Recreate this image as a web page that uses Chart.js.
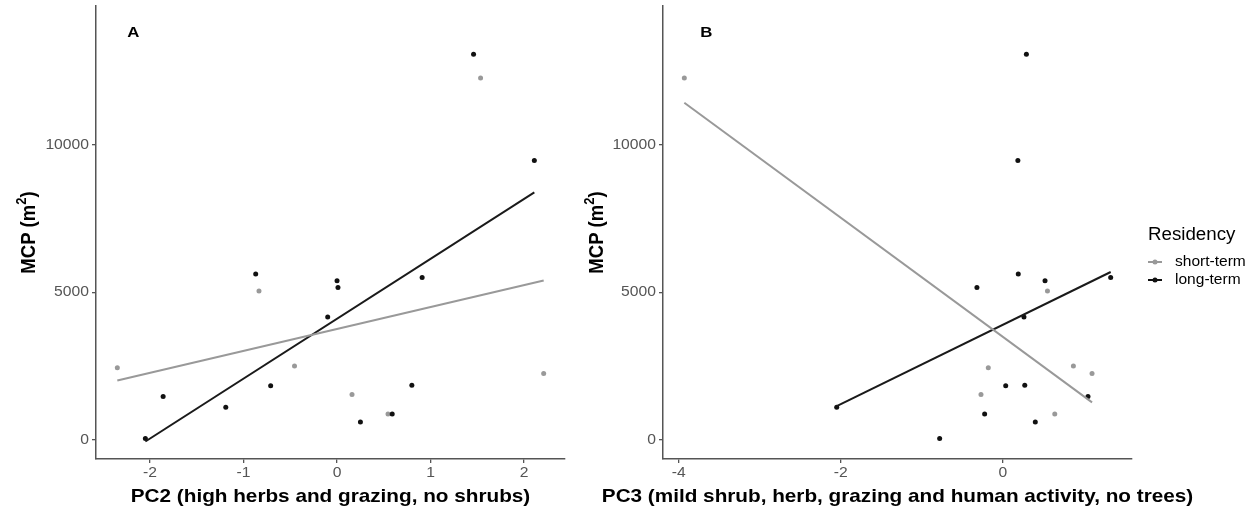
<!DOCTYPE html>
<html>
<head>
<meta charset="utf-8">
<script src="https://cdn.jsdelivr.net/npm/chart.js@4/dist/chart.umd.min.js"></script>
<style>
  html, body { margin: 0; padding: 0; background: #ffffff; }
  #wrap { position: relative; width: 1257px; height: 506px; overflow: hidden; background: #ffffff; }
  canvas { position: absolute; top: 0; display: block; }
</style>
</head>
<body>
<div id="wrap">
  <canvas id="panelA" width="580" height="506" style="left:0px;width:580px;height:506px"></canvas>
  <canvas id="panelB" width="677" height="506" style="left:580px;width:677px;height:506px"></canvas>
</div>
<script>
// Home-range size (MCP, m²) per animal, split by residency class
const mcpShort = [2449, 5046, 2506, 1542, 884, 2257, 12260];
const pc2Short = [-2.35, -0.835, -0.455, 0.16, 0.545, 2.21, 1.535];
const pc3Short = [-0.18, 0.55, 0.87, -0.27, 0.64, 1.10, -3.93];

const mcpLong = [57, 1474, 1111, 5624, 1837, 4172, 5397, 5170, 612, 884, 1859, 5510, 13067, 9465];
const pc2Long = [-2.05, -1.86, -1.19, -0.87, -0.71, -0.10, 0.0, 0.01, 0.25, 0.59, 0.80, 0.91, 1.46, 2.11];
const pc3Long = [-0.78, 1.05, -2.05, 0.19, 0.035, 0.26, 0.52, -0.32, 0.40, -0.225, 0.27, 1.33, 0.29, 0.185];

// Axis ticks and labels
const mcpTicks = [0, 5000, 10000];
const pc2Ticks = [-2, -1, 0, 1, 2];
const pc3Ticks = [-4, -2, 0];
const mcpLimits = [-640, 14700];

const seriesNames = ['short-term', 'long-term'];
const legendTitle = 'Residency';
const yTitle = ['MCP', 'm', '2'];
const xTitleA = 'PC2 (high herbs and grazing, no shrubs)';
const xTitleB = 'PC3 (mild shrub, herb, grazing and human activity, no trees)';
const panelLetters = ['A', 'B'];

const GREY = '#999999';
const BLACK = '#111111';
const AXIS = '#555555';
const TICKTEXT = '#555555';
const FONT = "'Liberation Sans', Arial, Helvetica, sans-serif";
const SX = 1.12; // horizontal stretch of the lettering

function pairs(xs, ys) { return xs.map((x, i) => ({ x: x, y: ys[i] })); }

// Ordinary least-squares fit, returned as the segment spanning the data
function fitLine(xs, ys) {
  const n = xs.length;
  const mx = xs.reduce((a, b) => a + b, 0) / n;
  const my = ys.reduce((a, b) => a + b, 0) / n;
  let sxx = 0, sxy = 0;
  for (let i = 0; i < n; i++) { sxx += (xs[i] - mx) ** 2; sxy += (xs[i] - mx) * (ys[i] - my); }
  const b = sxy / sxx, a = my - b * mx;
  const lo = Math.min(...xs), hi = Math.max(...xs);
  return [{ x: lo, y: a + b * lo }, { x: hi, y: a + b * hi }];
}

function expandRange(values) {
  const lo = Math.min(...values), hi = Math.max(...values);
  const pad = (hi - lo) * 0.05;
  return [lo - pad, hi + pad];
}

function drawText(ctx, str, x, y, font, color, align, baseline, sx) {
  ctx.save();
  ctx.font = font;
  ctx.fillStyle = color;
  ctx.textBaseline = baseline;
  ctx.textAlign = 'left';
  const w = ctx.measureText(str).width * sx;
  const left = align === 'center' ? x - w / 2 : (align === 'right' ? x - w : x);
  ctx.translate(left, y);
  ctx.scale(sx, 1);
  ctx.fillText(str, 0, 0);
  ctx.restore();
}

// Rotated y-axis title "MCP (m²)", centred on the plotting area
function drawYTitle(ctx, xBase, yMid) {
  const big = 'bold 18.5px ' + FONT;
  const small = 'bold 13px ' + FONT;
  const parts = [
    { t: yTitle[0], f: big, dy: 0 },
    { t: ' (', f: big, dy: 0 },
    { t: yTitle[1], f: big, dy: 0 },
    { t: yTitle[2], f: small, dy: -8 },
    { t: ')', f: big, dy: 0 }
  ];
  let total = 0;
  parts.forEach(p => { ctx.font = p.f; p.w = ctx.measureText(p.t).width; total += p.w; });
  ctx.save();
  ctx.translate(xBase, yMid);
  ctx.rotate(-Math.PI / 2);
  ctx.scale(1, SX);
  ctx.fillStyle = '#000000';
  ctx.textBaseline = 'alphabetic';
  ctx.textAlign = 'left';
  let cx = -total / 2;
  parts.forEach(p => { ctx.font = p.f; ctx.fillText(p.t, cx, p.dy); cx += p.w; });
  ctx.restore();
}

function makeTextPlugin(cfg) {
  return {
    id: 'panelText',
    afterDraw(chart) {
      const ctx = chart.ctx;
      const xs = chart.scales.x, ys = chart.scales.y;
      const area = chart.chartArea;
      const tickFont = '14px ' + FONT;
      // y tick labels
      ys.ticks.forEach(t => {
        drawText(ctx, String(t.value), area.left - 7, ys.getPixelForValue(t.value), tickFont, TICKTEXT, 'right', 'middle', SX);
      });
      // x tick labels
      xs.ticks.forEach(t => {
        drawText(ctx, String(t.value), xs.getPixelForValue(t.value), area.bottom + 14, tickFont, TICKTEXT, 'center', 'middle', SX);
      });
      // x-axis title
      drawText(ctx, cfg.xTitle, (area.left + area.right) / 2, 502, 'bold 18.5px ' + FONT, '#000000', 'center', 'alphabetic', SX);
      // y-axis title
      drawYTitle(ctx, cfg.yTitleX, (area.top + area.bottom) / 2);
      // panel letter
      drawText(ctx, cfg.letter, xs.getPixelForValue(cfg.letterAt[0]), ys.getPixelForValue(cfg.letterAt[1]), 'bold 15px ' + FONT, '#000000', 'center', 'middle', SX);
      // legend
      if (cfg.legendX !== undefined) {
        const lx = cfg.legendX;
        drawText(ctx, legendTitle, lx, 240, '17.5px ' + FONT, '#000000', 'left', 'alphabetic', 1.07);
        const keys = [{ c: GREY, y: 262 }, { c: BLACK, y: 280 }];
        keys.forEach((k, i) => {
          ctx.save();
          ctx.strokeStyle = k.c;
          ctx.lineWidth = 2;
          ctx.beginPath();
          ctx.moveTo(lx, k.y);
          ctx.lineTo(lx + 14, k.y);
          ctx.stroke();
          ctx.fillStyle = k.c;
          ctx.beginPath();
          ctx.arc(lx + 7, k.y, 2.5, 0, Math.PI * 2);
          ctx.fill();
          ctx.restore();
          drawText(ctx, seriesNames[i], lx + 27, k.y, '14px ' + FONT, '#000000', 'left', 'middle', 1.11);
        });
      }
    }
  };
}

function axisStyle() {
  return {
    grid: { display: true, drawOnChartArea: false, drawTicks: true, tickLength: 4, color: AXIS, lineWidth: 1.3 },
    border: { display: true, color: AXIS, width: 1.5 },
    ticks: { display: false }
  };
}

function buildPanel(canvasId, xsShort, xsLong, xTicks, cfg) {
  const xRange = expandRange(xsShort.concat(xsLong));
  const xAxis = Object.assign(axisStyle(), {
    type: 'linear', position: 'bottom', min: xRange[0], max: xRange[1],
    afterBuildTicks: s => { s.ticks = xTicks.map(v => ({ value: v })); },
    afterFit: s => { s.height = 47; }
  });
  const yAxis = Object.assign(axisStyle(), {
    type: 'linear', position: 'left', min: mcpLimits[0], max: mcpLimits[1],
    afterBuildTicks: s => { s.ticks = mcpTicks.map(v => ({ value: v })); },
    afterFit: s => { s.width = cfg.yAxisWidth; }
  });
  return new Chart(document.getElementById(canvasId), {
    type: 'scatter',
    data: {
      datasets: [
        { label: seriesNames[0] + ' fit', data: fitLine(xsShort, mcpShort), showLine: true, borderColor: GREY, borderWidth: 2, pointRadius: 0, order: 0 },
        { label: seriesNames[1] + ' fit', data: fitLine(xsLong, mcpLong), showLine: true, borderColor: '#1a1a1a', borderWidth: 2, pointRadius: 0, order: 0 },
        { label: seriesNames[1], data: pairs(xsLong, mcpLong), backgroundColor: BLACK, pointRadius: 2.5, pointBorderWidth: 0, order: 1 },
        { label: seriesNames[0], data: pairs(xsShort, mcpShort), backgroundColor: GREY, pointRadius: 2.5, pointBorderWidth: 0, order: 2 }
      ]
    },
    options: {
      responsive: false,
      animation: false,
      devicePixelRatio: 1,
      events: [],
      layout: { padding: { left: 0, top: 6, right: cfg.padRight, bottom: 0 } },
      plugins: { legend: { display: false }, tooltip: { enabled: false } },
      scales: { x: xAxis, y: yAxis }
    },
    plugins: [makeTextPlugin(cfg)]
  });
}

buildPanel('panelA', pc2Short, pc2Long, pc2Ticks, {
  yAxisWidth: 96, padRight: 15, xTitle: xTitleA, yTitleX: 35,
  letter: panelLetters[0], letterAt: [-2.18, 13800]
});
buildPanel('panelB', pc3Short, pc3Long, pc3Ticks, {
  yAxisWidth: 83, padRight: 125, xTitle: xTitleB, yTitleX: 23,
  letter: panelLetters[1], letterAt: [-3.66, 13800], legendX: 568
});
</script>
</body>
</html>
